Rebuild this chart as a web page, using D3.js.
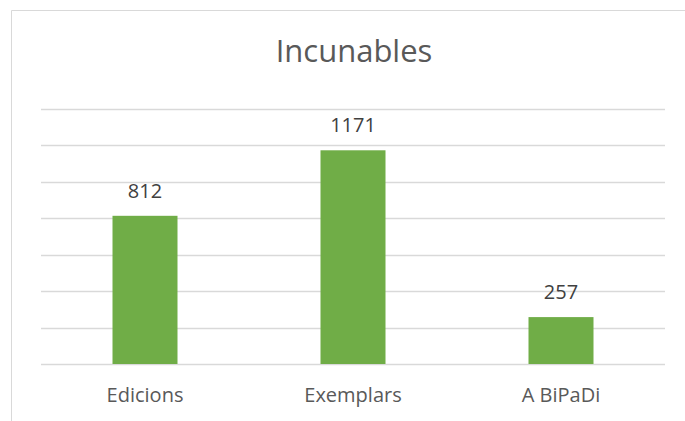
<!DOCTYPE html>
<html>
<head>
<meta charset="utf-8">
<script src="https://cdn.jsdelivr.net/npm/d3@7"></script>
<style>
  html, body { margin: 0; padding: 0; background: #ffffff; }
  svg { display: block; }
</style>
</head>
<body>
<svg id="chart" width="685" height="421"></svg>
<script>
const title = "Incunables";
const categories = ["Edicions", "Exemplars", "A BiPaDi"];
const values = [812, 1171, 257];
const yTicks = [0, 200, 400, 600, 800, 1000, 1200, 1400];

const svg = d3.select("#chart");
const W = 685, H = 421;
const plot = { left: 41, right: 665, top: 108.5, bottom: 364 };
const font = "'Open Sans', sans-serif";
const textColor = "#595959";
const gridColor = "#d9d9d9";
const barColor = "#70ad47";

svg.append("rect").attr("width", W).attr("height", H).attr("fill", "#fff");

// chart frame (top and left edges visible)
svg.append("line").attr("x1", 11.5).attr("x2", W).attr("y1", 10.5).attr("y2", 10.5)
  .attr("stroke", gridColor).attr("stroke-width", 1);
svg.append("line").attr("x1", 11.5).attr("x2", 11.5).attr("y1", 10.5).attr("y2", H)
  .attr("stroke", gridColor).attr("stroke-width", 1);

const x = d3.scaleBand().domain(categories).range([plot.left, plot.right])
  .paddingInner(0.6875).paddingOuter(0.34375);
const y = d3.scaleLinear().domain([0, 1400]).range([plot.bottom, plot.top]);

// gridlines
svg.append("g").selectAll("line").data(yTicks).join("line")
  .attr("x1", plot.left).attr("x2", plot.right)
  .attr("y1", d => Math.round(y(d)) + 0.5).attr("y2", d => Math.round(y(d)) + 0.5)
  .attr("stroke", gridColor).attr("stroke-width", 1.3);

// bars
svg.append("g").selectAll("rect").data(values).join("rect")
  .attr("x", (d, i) => x(categories[i]))
  .attr("width", x.bandwidth())
  .attr("y", d => y(d))
  .attr("height", d => y(0) - y(d))
  .attr("fill", barColor);

// data labels
svg.append("g").selectAll("text").data(values).join("text")
  .attr("x", (d, i) => x(categories[i]) + x.bandwidth() / 2)
  .attr("y", d => y(d) - 18)
  .attr("text-anchor", "middle")
  .attr("font-family", font).attr("font-size", 20)
  .attr("fill", "#404040")
  .text(d => d);

// category axis labels
const xAxis = d3.axisBottom(x).tickSize(0).tickPadding(0);
const gx = svg.append("g").attr("transform", `translate(0,${plot.bottom})`).call(xAxis);
gx.select(".domain").remove();
gx.selectAll("text")
  .attr("y", 38).attr("dy", 0)
  .attr("font-family", font).attr("font-size", 20)
  .attr("fill", textColor);

// title
svg.append("text").attr("x", (plot.left + plot.right) / 2 + 1).attr("y", 62)
  .attr("text-anchor", "middle")
  .attr("font-family", font).attr("font-size", 31)
  .attr("fill", textColor)
  .text(title);
</script>
</body>
</html>
